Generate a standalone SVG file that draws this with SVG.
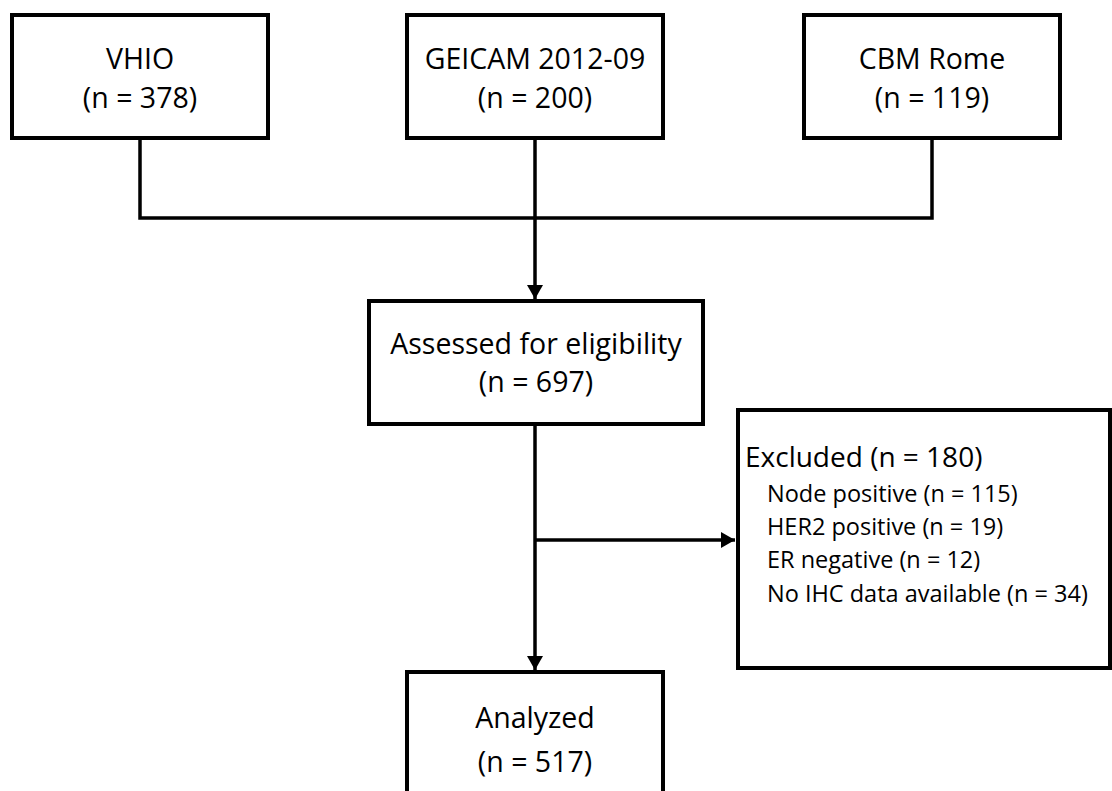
<svg xmlns="http://www.w3.org/2000/svg" width="1112" height="791" viewBox="0 0 1112 791">
<style>
.box{fill:#fff;stroke:#000;stroke-width:4}
.t{font-family:"Open Sans","Liberation Sans",sans-serif;font-size:28.5px;fill:#000;text-anchor:middle}
.s{font-family:"Open Sans","Liberation Sans",sans-serif;font-size:23.5px;fill:#000}
.c{fill:none;stroke:#000;stroke-width:3.5}
</style>
<defs>
<marker id="ah" viewBox="0 0 14 16" refX="14" refY="8" markerWidth="14" markerHeight="16" markerUnits="userSpaceOnUse" orient="auto">
<path d="M0,0 L14,8 L0,16 Z" fill="#000"/>
</marker>
</defs>
<rect width="1112" height="791" fill="#fff"/>
<g id="connectors">
<path class="c" d="M140,138 V218 H932 V138"/>
<path class="c" d="M535,138 V299" marker-end="url(#ah)"/>
<path class="c" d="M535,424 V670" marker-end="url(#ah)"/>
<path class="c" d="M535,540 H735" marker-end="url(#ah)"/>
</g>
<g id="vhio">
<rect class="box" x="12" y="15" width="256" height="123"/>
<text class="t" x="140" y="69">VHIO</text>
<text class="t" x="140" y="108">(n = 378)</text>
</g>
<g id="geicam">
<rect class="box" x="407" y="15" width="256" height="123"/>
<text class="t" x="535" y="69">GEICAM 2012-09</text>
<text class="t" x="535" y="108">(n = 200)</text>
</g>
<g id="cbm">
<rect class="box" x="804" y="15" width="256" height="123"/>
<text class="t" x="932" y="69">CBM Rome</text>
<text class="t" x="932" y="108">(n = 119)</text>
</g>
<g id="assessed">
<rect class="box" x="369" y="301" width="334" height="123"/>
<text class="t" x="536" y="354">Assessed for eligibility</text>
<text class="t" x="536" y="392">(n = 697)</text>
</g>
<g id="excluded">
<rect class="box" x="738" y="410" width="372" height="258"/>
<text class="s" x="745" y="467" style="font-size:28px">Excluded (n = 180)</text>
<text class="s" x="767" y="502">Node positive (n = 115)</text>
<text class="s" x="767" y="535">HER2 positive (n = 19)</text>
<text class="s" x="767" y="568">ER negative (n = 12)</text>
<text class="s" x="767" y="602">No IHC data available (n = 34)</text>
</g>
<g id="analyzed">
<rect class="box" x="407" y="672" width="256" height="130"/>
<text class="t" x="535" y="728">Analyzed</text>
<text class="t" x="535" y="772">(n = 517)</text>
</g>
</svg>
